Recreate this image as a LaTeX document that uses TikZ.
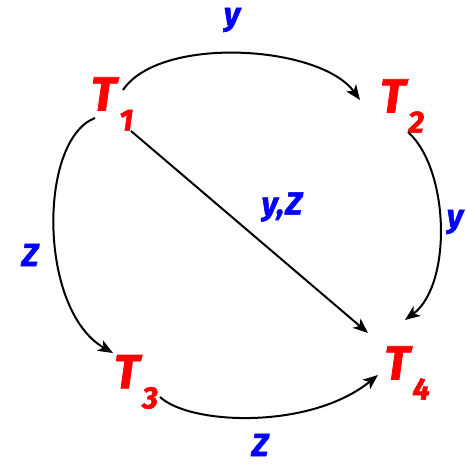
\documentclass[tikz,border=0pt]{standalone}
\usepackage{fontspec}
\setmainfont{Fira Sans}[BoldItalicFeatures={FakeBold=1.6}]
\usetikzlibrary{arrows.meta,calc}
\definecolor{tred}{RGB}{255,0,0}
\definecolor{lblue}{RGB}{0,0,255}
\newcommand{\tlab}[1]{T\kern0.06em\raisebox{-0.42em}{\fontsize{31}{31}\selectfont #1}}
\begin{document}
\begin{tikzpicture}[x=1pt,y=-1pt,
  tnode/.style={text=tred,font=\fontsize{48}{48}\selectfont\bfseries\itshape,inner sep=0pt},
  lab/.style={text=lblue,font=\fontsize{32}{32}\selectfont\bfseries\itshape,inner sep=0pt},
  edge/.style={line width=2pt,-{Stealth[length=15pt,width=12pt,inset=4pt]}}]
\useasboundingbox (0,0) rectangle (467,465);
\node[tnode] (t1) at (112,104) {\tlab{1}};
\node[tnode] (t2) at (402,106) {\tlab{2}};
\node[tnode] (t3) at (136,382) {\tlab{3}};
\node[tnode] (t4) at (407,373) {\tlab{4}};
\draw[edge] ($(t1)+(11,-14)$) .. controls (160,35) and (320,45) .. ($(t2)+(-42,-6)$);
\draw[edge] ($(t1)+(-17,14)$) .. controls (38,140) and (38,310) .. ($(t3)+(-23,-29)$);
\draw[edge] ($(t1)+(19,27)$) -- ($(t4)+(-39,-40)$);
\draw[edge] ($(t2)+(6,26)$) .. controls (450,170) and (452,285) .. ($(t4)+(-2,-53)$);
\draw[edge] ($(t3)+(24,15)$) .. controls (190,425) and (310,430) .. ($(t4)+(-29,2)$);
\node[lab] (l12) at (232,20) {y};
\node[lab] (l13) at (30,255) {Z};
\node[lab] (l14) at (282,207) {y,\kern1pt Z};
\node[lab] (l24) at (455,222) {y};
\node[lab] (l34) at (260,445) {Z};
\end{tikzpicture}
\end{document}
